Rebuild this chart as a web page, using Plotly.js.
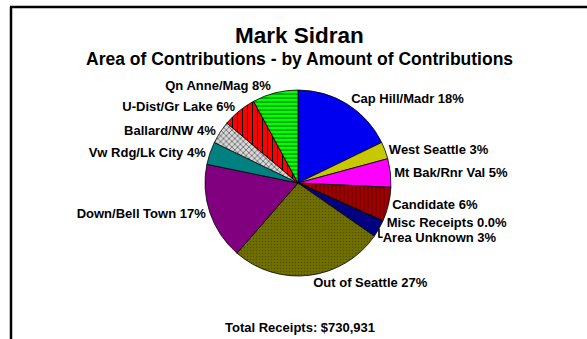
<!DOCTYPE html>
<html>
<head>
<meta charset="utf-8">
<script src="https://cdn.plot.ly/plotly-3.0.1.min.js"></script>
<style>
html,body{margin:0;padding:0;background:#fff;}
#chart{width:587px;height:339px;}
</style>
</head>
<body>
<div id="chart"></div>
<script>
// Data (percent of total receipts), clockwise from 12 o'clock
const areas = ['Cap Hill/Madr','West Seattle','Mt Bak/Rnr Val','Candidate','Misc Receipts','Area Unknown','Out of Seattle','Down/Bell Town','Vw Rdg/Lk City','Ballard/NW','U-Dist/Gr Lake','Qn Anne/Mag'];
const shares = [18, 3, 5, 6, 0.02, 3, 27, 17, 4, 4, 6, 8];
const shareLabels = ['18%','3%','5%','6%','0.0%','3%','27%','17%','4%','4%','6%','8%'];
const totalLabel = 'Total Receipts: $730,931';

const colors   = ['#0000f0','#c8c800','#ff00ff','#800000','#000000','#000080','#707000','#800080','#008080','#d8d8d8','#ff0000','#00ff00'];
const patShape = ['','','','|','','','.','','','x','|','-'];
const patFg    = ['#000','#000','#000','#b00000','#000','#000','#505000','#000','#000','#707070','#000000','#006000'];
const patSize  = [6,6,6,4,6,6,3,6,6,4,5,4];
const patSol   = [0.3,0.3,0.3,0.35,0.3,0.3,0.2,0.3,0.3,0.4,0.2,0.25];

const trace = {
  type: 'pie',
  labels: areas,
  values: shares,
  text: shareLabels,
  sort: false,
  direction: 'clockwise',
  rotation: 0,
  textposition: 'outside',
  texttemplate: '<b>%{label} %{text}</b>',
  textfont: {family: 'Arial, "Liberation Sans", sans-serif', size: 13, color: '#000'},
  outsidetextfont: {family: 'Arial, "Liberation Sans", sans-serif', size: 13, color: '#000'},
  marker: {
    colors: colors,
    line: {color: '#000', width: 0.8},
    pattern: {shape: patShape, fgcolor: patFg, bgcolor: colors, size: patSize, solidity: patSol, fillmode: 'replace'}
  },
  hoverinfo: 'none',
  showlegend: false,
  domain: {x: [0.3492, 0.6661], y: [0.1858, 0.7345]}
};

const font = 'Arial, "Liberation Sans", sans-serif';
const layout = {
  width: 587, height: 339,
  margin: {l: 0, r: 0, t: 0, b: 0},
  paper_bgcolor: '#fff',
  plot_bgcolor: '#fff',
  showlegend: false,
  title: {text: ''},
  annotations: [
    {text: '<b>Mark Sidran</b>', xref: 'paper', yref: 'paper', x: 0.51, y: 1 - 35/339, xanchor: 'center', yanchor: 'middle', showarrow: false, font: {family: font, size: 22.5, color: '#000'}},
    {text: '<b>Area of Contributions - by Amount of Contributions</b>', xref: 'paper', yref: 'paper', x: 0.511, y: 1 - 59/339, xanchor: 'center', yanchor: 'middle', showarrow: false, font: {family: font, size: 17.5, color: '#000'}},
    {text: '<b>' + totalLabel + '</b>', xref: 'paper', yref: 'paper', x: 0.511, y: 1 - 327/339, xanchor: 'center', yanchor: 'middle', showarrow: false, font: {family: font, size: 13, color: '#000'}}
  ],
  shapes: [
    {type: 'line', xref: 'paper', yref: 'paper', x0: 11/587, x1: 11/587, y0: 0, y1: 1 - 7/339, line: {color: '#000', width: 2.5}},
    {type: 'line', xref: 'paper', yref: 'paper', x0: 10/587, x1: 1, y0: 1 - 7/339, y1: 1 - 7/339, line: {color: '#000', width: 2.5}}
  ]
};

Plotly.newPlot('chart', [trace], layout, {displayModeBar: false, staticPlot: true});
</script>
</body>
</html>
